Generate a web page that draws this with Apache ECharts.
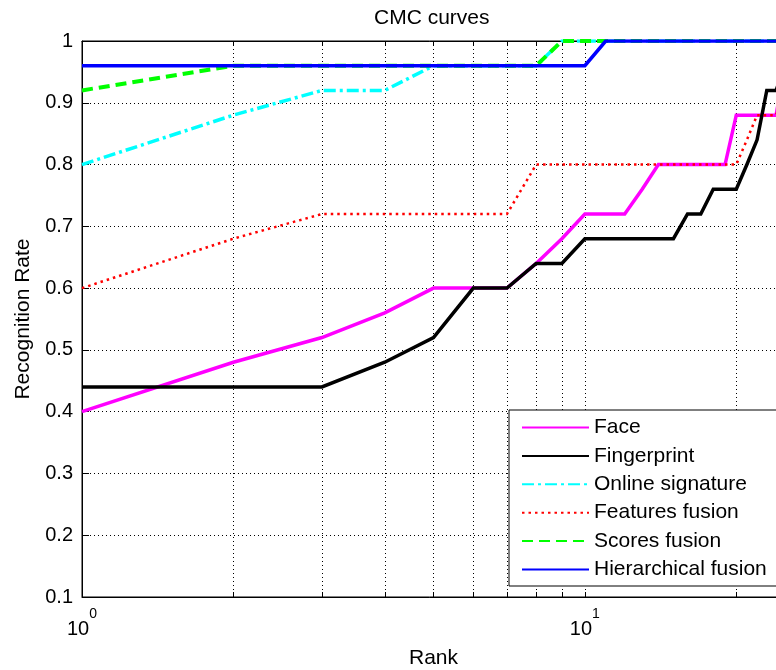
<!DOCTYPE html>
<html><head><meta charset="utf-8">
<script src="https://cdn.jsdelivr.net/npm/echarts@6/dist/echarts.min.js"></script>
<style>html,body{margin:0;padding:0;background:#fff}#c{width:776px;height:670px}</style>
</head><body><div id="c"></div>
<script>
const ranks = [1,2,3,4,5,6,7,8,9,10,11,12,13,14,15,16,17,18,19,20,21,22,23,24,25];
const face          = [0.40,0.48,0.52,0.56,0.60,0.60,0.60,0.64,0.68,0.72,0.72,0.72,0.76,0.80,0.80,0.80,0.80,0.80,0.80,0.88,0.88,0.88,0.88,0.88,0.96];
const fingerprint   = [0.44,0.44,0.44,0.48,0.52,0.60,0.60,0.64,0.64,0.68,0.68,0.68,0.68,0.68,0.68,0.72,0.72,0.76,0.76,0.76,0.80,0.84,0.92,0.92,0.96];
const onlineSig     = [0.80,0.88,0.92,0.92,0.96,0.96,0.96,0.96,1.00,1.00,1.00,1.00,1.00,1.00,1.00,1.00,1.00,1.00,1.00,1.00,1.00,1.00,1.00,1.00,1.00];
const featuresFus   = [0.60,0.68,0.72,0.72,0.72,0.72,0.72,0.80,0.80,0.80,0.80,0.80,0.80,0.80,0.80,0.80,0.80,0.80,0.80,0.80,0.84,0.88,0.88,0.88,0.92];
const scoresFus     = [0.92,0.96,0.96,0.96,0.96,0.96,0.96,0.96,1.00,1.00,1.00,1.00,1.00,1.00,1.00,1.00,1.00,1.00,1.00,1.00,1.00,1.00,1.00,1.00,1.00];
const hierFus       = [0.96,0.96,0.96,0.96,0.96,0.96,0.96,0.96,0.96,0.96,1.00,1.00,1.00,1.00,1.00,1.00,1.00,1.00,1.00,1.00,1.00,1.00,1.00,1.00,1.00];
const seriesNames = ['Face','Fingerprint','Online signature','Features fusion','Scores fusion','Hierarchical fusion'];
const xTickValues = [1,2,3,4,5,6,7,8,9,10,20];
const xLabelValues = [1,10];

const FONT = "'Liberation Sans', Arial, Helvetica, sans-serif";
const pair = arr => ranks.map((r,i)=>[r, arr[i]]);
const styles = [
  {color:'#ff00ff', width:3.5, type:'solid'},
  {color:'#000000', width:3.5, type:'solid'},
  {color:'#00ffff', width:3.5, type:[12,4,3,4]},
  {color:'#ff0000', width:2.5, type:[2.5,4]},
  {color:'#00ff00', width:4, type:[11,6]},
  {color:'#0000ff', width:3.5, type:'solid'}
];
const datasets = [face, fingerprint, onlineSig, featuresFus, scoresFus, hierFus];

const chart = echarts.init(document.getElementById('c'), null, {renderer:'canvas'});
chart.setOption({
  animation:false,
  backgroundColor:'#fff',
  title:{text:'CMC curves', left:374, top:8, padding:0,
    textStyle:{fontFamily:FONT, fontSize:21, fontWeight:'normal', color:'#000'}},
  grid:{left:82, top:41, width:703, height:556, show:true, borderColor:'#000', borderWidth:1,
    backgroundColor:'transparent', containLabel:false, outerBoundsMode:'none'},
  legend:{
    orient:'vertical', left:509, top:410,
    padding:[7,24,6,12], backgroundColor:'#fff', borderColor:'#000', borderWidth:1, borderRadius:0,
    itemWidth:67, itemHeight:21, itemGap:7.4,
    itemStyle:{opacity:0},
    textStyle:{fontFamily:FONT, fontSize:21, color:'#000', lineHeight:21},
    data:seriesNames
  },
  xAxis:[{
    type:'log', logBase:10, min:1, max:25,
    name:'Rank', nameLocation:'middle', nameGap:51,
    nameTextStyle:{fontFamily:FONT, fontSize:21, color:'#000'},
    axisLine:{show:true, lineStyle:{color:'#000', width:1}},
    axisTick:{show:true, inside:true, length:5, customValues:xTickValues, lineStyle:{color:'#000'}},
    axisLabel:{show:true, customValues:xLabelValues, margin:10, hideOverlap:false,
      formatter:v => '{b|10}{s|' + Math.round(Math.log10(v)) + '}',
      rich:{
        b:{fontFamily:FONT, fontSize:20, lineHeight:32, verticalAlign:'bottom', color:'#000'},
        s:{fontFamily:FONT, fontSize:14, lineHeight:14, verticalAlign:'top', color:'#000'}
      }},
    splitLine:{show:true, lineStyle:{color:'#000', width:1, type:[1,3]}},
    minorTick:{show:false}, minorSplitLine:{show:false}
  },{
    type:'log', logBase:10, min:1, max:25, position:'top',
    axisLine:{show:true, lineStyle:{color:'#000', width:1}},
    axisTick:{show:true, inside:true, length:5, customValues:xTickValues, lineStyle:{color:'#000'}},
    axisLabel:{show:false}, splitLine:{show:false}
  }],
  yAxis:{
    type:'value', min:0.1, max:1, interval:0.1,
    name:'Recognition Rate', nameLocation:'middle', nameGap:48,
    nameTextStyle:{fontFamily:FONT, fontSize:21, color:'#000'},
    axisLine:{show:true, lineStyle:{color:'#000', width:1}},
    axisTick:{show:true, inside:true, length:7, lineStyle:{color:'#000'}},
    axisLabel:{fontFamily:FONT, fontSize:20, color:'#000', margin:9,
      formatter:v => (Math.abs(v-1)<1e-9 ? '1' : v.toFixed(1))},
    splitLine:{show:true, lineStyle:{color:'#000', width:1, type:[1,3]}}
  },
  series: datasets.map((d,i)=>({
    name:seriesNames[i], type:'line', data:pair(d),
    xAxisIndex:0,
    symbol:'circle', symbolSize:0, showSymbol:false,
    lineStyle:{color:styles[i].color, width:styles[i].width, type:styles[i].type, cap:'butt', join:'miter'},
    itemStyle:{color:styles[i].color},
    emphasis:{disabled:true},
    z:2+i
  }))
});
</script>
</body></html>
